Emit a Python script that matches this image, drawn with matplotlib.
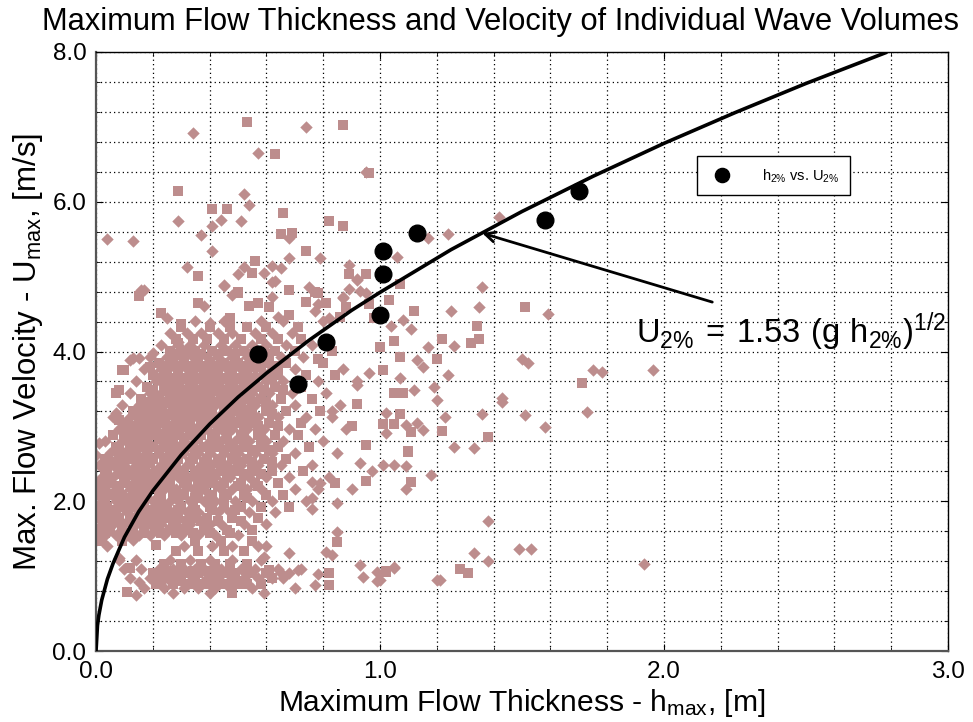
import matplotlib.pyplot as plt
import numpy as np

plt.rcParams['font.family'] = ['Liberation Sans', 'DejaVu Sans']

# --- measured wave volumes: dense part, row by row (U, list of h) ---
sq_rows = [
    (0.90, [0.21, 0.27, 0.33, 0.38, 0.40, 0.45, 0.50, 0.53, 0.58]),
    (0.93, [0.23, 0.30, 0.35, 0.43, 0.48, 0.51]),
    (1.04, [0.20, 0.23, 0.28, 0.32, 0.36, 0.41, 0.46, 0.49, 0.55, 0.60]),
    (1.07, [0.25, 0.30, 0.34, 0.39, 0.43, 0.47, 0.53]),
    (1.16, [0.24, 0.30, 0.37, 0.42, 0.47, 0.53]),
    (1.33, [0.28, 0.36, 0.45, 0.52]),
    (1.47, [0.02, 0.09, 0.35, 0.44, 0.55]),
    (1.58, [0.03, 0.10, 0.17, 0.23, 0.28, 0.34, 0.40, 0.47]),
    (1.62, [0.01, 0.05, 0.09, 0.13, 0.17, 0.21, 0.26, 0.31, 0.38, 0.46, 0.55]),
    (1.73, [0.03, 0.07, 0.12, 0.17, 0.22, 0.27, 0.32, 0.37, 0.43, 0.51]),
    (1.77, [0.00, 0.04, 0.08, 0.12, 0.16, 0.20, 0.25, 0.29, 0.35, 0.39, 0.48, 0.57]),
    (1.89, [0.02, 0.07, 0.11, 0.16, 0.20, 0.25, 0.29, 0.35, 0.41, 0.49]),
    (1.93, [0.00, 0.04, 0.09, 0.13, 0.17, 0.21, 0.24, 0.30, 0.34, 0.40, 0.45, 0.51, 0.58, 0.68]),
    (2.05, [0.03, 0.08, 0.12, 0.17, 0.23, 0.28, 0.35, 0.40, 0.45, 0.53]),
    (2.09, [0.01, 0.05, 0.09, 0.14, 0.18, 0.22, 0.27, 0.31, 0.36, 0.41, 0.46, 0.52, 0.60, 0.66]),
    (2.21, [0.02, 0.08, 0.13, 0.17, 0.21, 0.26, 0.32, 0.37, 0.43, 0.50, 0.57]),
    (2.25, [0.00, 0.05, 0.10, 0.14, 0.18, 0.23, 0.26, 0.31, 0.36, 0.40, 0.45, 0.51, 0.56, 0.64]),
    (2.37, [0.03, 0.09, 0.14, 0.18, 0.23, 0.27, 0.31, 0.36, 0.41, 0.46, 0.52, 0.58]),
    (2.41, [0.04, 0.08, 0.12, 0.17, 0.21, 0.24, 0.30, 0.35, 0.39, 0.44, 0.49, 0.55, 0.62, 0.73]),
    (2.53, [0.05, 0.09, 0.15, 0.19, 0.24, 0.28, 0.33, 0.38, 0.44, 0.50, 0.55, 0.62]),
    (2.57, [0.03, 0.08, 0.12, 0.16, 0.20, 0.25, 0.29, 0.34, 0.39, 0.43, 0.48, 0.53, 0.59, 0.67]),
    (2.69, [0.08, 0.13, 0.18, 0.22, 0.26, 0.30, 0.35, 0.40, 0.45, 0.49, 0.55, 0.61]),
    (2.73, [0.07, 0.12, 0.16, 0.20, 0.24, 0.29, 0.33, 0.38, 0.42, 0.47, 0.52, 0.58, 0.64, 0.75]),
    (2.85, [0.10, 0.13, 0.17, 0.22, 0.27, 0.31, 0.36, 0.41, 0.46, 0.52, 0.58]),
    (2.89, [0.06, 0.11, 0.15, 0.19, 0.24, 0.28, 0.33, 0.37, 0.42, 0.46, 0.51, 0.57, 0.63, 0.71]),
    (3.01, [0.12, 0.16, 0.20, 0.25, 0.29, 0.33, 0.38, 0.43, 0.47, 0.52, 0.57, 0.64]),
    (3.05, [0.10, 0.15, 0.19, 0.23, 0.28, 0.32, 0.37, 0.41, 0.45, 0.50, 0.55, 0.61, 0.72]),
    (3.17, [0.15, 0.19, 0.24, 0.28, 0.33, 0.37, 0.41, 0.46, 0.51, 0.55, 0.62]),
    (3.21, [0.13, 0.18, 0.22, 0.27, 0.31, 0.36, 0.40, 0.45, 0.49, 0.54, 0.60, 0.67, 0.79]),
    (3.33, [0.18, 0.23, 0.27, 0.32, 0.36, 0.41, 0.45, 0.50, 0.55, 0.60]),
    (3.37, [0.16, 0.21, 0.26, 0.30, 0.35, 0.39, 0.44, 0.48, 0.53, 0.58, 0.65, 0.76]),
    (3.49, [0.20, 0.25, 0.30, 0.35, 0.40, 0.44, 0.49, 0.54, 0.59, 0.66]),
    (3.53, [0.18, 0.24, 0.28, 0.33, 0.38, 0.42, 0.47, 0.52, 0.57, 0.63, 0.72]),
    (3.65, [0.23, 0.27, 0.32, 0.37, 0.42, 0.46, 0.51, 0.56, 0.62]),
    (3.69, [0.20, 0.25, 0.29, 0.34, 0.39, 0.43, 0.48, 0.53, 0.59, 0.64, 0.74, 0.84]),
    (3.81, [0.25, 0.29, 0.34, 0.38, 0.43, 0.48, 0.53, 0.58, 0.64]),
    (3.85, [0.22, 0.27, 0.31, 0.36, 0.40, 0.45, 0.50, 0.55, 0.61, 0.67, 0.80]),
    (3.97, [0.28, 0.33, 0.37, 0.43, 0.49, 0.55, 0.61]),
    (4.01, [0.26, 0.31, 0.35, 0.41, 0.46, 0.52, 0.57, 0.63, 0.70, 0.83]),
    (4.17, [0.28, 0.34, 0.39, 0.45, 0.51, 0.58, 0.64, 0.72]),
    (4.33, [0.30, 0.40, 0.47, 0.53, 0.60, 0.71]),
]
dm_rows = [
    (0.84, [0.17, 0.24, 0.31, 0.36, 0.42, 0.47, 0.55, 0.70]),
    (0.97, [0.12, 0.19, 0.25, 0.29, 0.34, 0.39, 0.43, 0.48, 0.52, 0.57, 0.62, 0.66]),
    (1.10, [0.10, 0.16, 0.22, 0.27, 0.31, 0.35, 0.38, 0.44, 0.51, 0.56, 0.64, 0.72]),
    (1.22, [0.08, 0.14, 0.26, 0.33, 0.40, 0.48, 0.58]),
    (1.40, [0.04, 0.31, 0.41, 0.48, 0.57, 0.60]),
    (1.55, [0.00, 0.03, 0.07, 0.11, 0.15, 0.19, 0.24, 0.30, 0.36, 0.42, 0.50]),
    (1.70, [0.02, 0.06, 0.10, 0.14, 0.19, 0.23, 0.28, 0.33, 0.40, 0.44, 0.52, 0.60]),
    (1.85, [0.02, 0.06, 0.11, 0.15, 0.18, 0.22, 0.27, 0.32, 0.36, 0.43, 0.47, 0.54, 0.63]),
    (2.01, [0.02, 0.07, 0.11, 0.15, 0.20, 0.26, 0.29, 0.33, 0.38, 0.42, 0.49, 0.55, 0.62, 0.74]),
    (2.17, [0.03, 0.07, 0.12, 0.16, 0.19, 0.24, 0.28, 0.34, 0.38, 0.44, 0.48, 0.53, 0.58, 0.70, 0.78]),
    (2.33, [0.02, 0.06, 0.11, 0.15, 0.20, 0.25, 0.29, 0.33, 0.38, 0.42, 0.47, 0.54, 0.60, 0.68, 0.82]),
    (2.49, [0.01, 0.06, 0.10, 0.14, 0.18, 0.23, 0.27, 0.32, 0.37, 0.41, 0.46, 0.51, 0.57, 0.65, 0.76]),
    (2.65, [0.05, 0.10, 0.14, 0.18, 0.22, 0.27, 0.31, 0.36, 0.40, 0.45, 0.50, 0.56, 0.62, 0.70, 0.85]),
    (2.81, [0.03, 0.09, 0.14, 0.18, 0.23, 0.26, 0.31, 0.35, 0.40, 0.44, 0.49, 0.54, 0.60, 0.66, 0.80]),
    (2.97, [0.08, 0.13, 0.17, 0.21, 0.26, 0.30, 0.35, 0.39, 0.44, 0.48, 0.53, 0.59, 0.68, 0.77, 0.88]),
    (3.13, [0.06, 0.12, 0.17, 0.21, 0.25, 0.30, 0.34, 0.39, 0.43, 0.47, 0.52, 0.57, 0.64, 0.74, 0.83]),
    (3.29, [0.09, 0.15, 0.20, 0.24, 0.29, 0.33, 0.38, 0.42, 0.47, 0.51, 0.56, 0.62, 0.70, 0.86]),
    (3.45, [0.12, 0.19, 0.23, 0.28, 0.32, 0.37, 0.41, 0.46, 0.50, 0.55, 0.61, 0.69, 0.81]),
    (3.61, [0.14, 0.21, 0.26, 0.30, 0.35, 0.40, 0.44, 0.49, 0.54, 0.60, 0.66, 0.78, 0.92]),
    (3.77, [0.17, 0.23, 0.28, 0.32, 0.37, 0.41, 0.46, 0.51, 0.56, 0.62, 0.70, 0.87]),
    (3.93, [0.19, 0.25, 0.30, 0.34, 0.39, 0.43, 0.48, 0.53, 0.58, 0.65, 0.73]),
    (4.09, [0.23, 0.29, 0.33, 0.38, 0.44, 0.49, 0.55, 0.60, 0.67, 0.76]),
    (4.25, [0.26, 0.32, 0.37, 0.43, 0.48, 0.56, 0.62, 0.69]),
    (4.41, [0.35, 0.45, 0.58, 0.66, 0.80]),
]

# --- measured wave volumes: scattered points (h, U) ---
sq_pts = [
    (0.87, 7.02), (0.53, 7.06), (0.63, 6.64), (0.96, 6.38), (0.29, 6.14),
    (0.41, 5.90), (0.46, 5.90), (0.66, 5.85), (0.82, 5.74), (0.87, 5.67),
    (0.65, 5.57), (0.69, 5.58), (0.74, 5.34), (0.56, 5.21), (0.36, 5.01),
    (0.55, 5.05), (0.95, 5.03), (0.89, 5.04), (0.50, 4.79), (0.68, 4.82),
    (0.78, 4.78), (0.15, 4.74), (0.23, 4.51), (0.30, 4.37), (0.36, 4.65),
    (0.47, 4.45), (0.54, 4.61), (0.57, 4.65), (0.61, 4.59), (0.68, 4.49),
    (0.81, 4.65), (0.86, 4.46), (0.88, 4.59), (0.98, 4.45), (0.29, 4.11),
    (0.10, 3.75), (0.07, 3.44), (0.08, 3.08), (0.77, 4.79), (0.74, 4.66),
    (1.07, 4.90), (1.03, 4.69), (1.12, 4.54), (1.34, 4.34), (1.35, 4.17),
    (1.32, 4.11), (1.51, 4.59), (1.22, 4.17), (1.05, 4.14), (1.07, 3.93),
    (1.00, 4.06), (1.20, 3.90), (1.01, 3.75), (1.08, 3.44), (1.05, 3.44),
    (1.71, 3.58), (1.07, 3.16), (1.11, 2.92), (1.05, 3.03), (1.01, 3.03),
    (1.22, 2.94), (1.38, 2.86), (1.10, 2.66), (1.11, 2.26), (1.10, 2.67),
    (0.95, 2.27), (0.84, 2.24), (0.85, 1.46), (1.02, 1.05), (0.82, 1.04),
    (0.82, 0.88), (0.61, 1.08), (0.62, 0.97), (0.48, 0.77), (0.11, 0.79),
    (0.12, 1.11), (0.21, 1.41), (1.02, 1.07), (1.28, 1.09), (1.31, 1.04),
    (0.09, 3.75), (0.08, 3.48), (0.19, 3.79), (0.04, 2.55), (0.50, 4.78),
    (0.96, 4.63), (0.92, 3.30), (0.78, 3.90), (0.90, 3.00), (0.95, 2.75),
]
dm_pts = [
    (0.74, 7.00), (0.34, 6.92), (0.57, 6.65), (0.95, 6.40), (0.52, 6.11),
    (0.54, 5.95), (0.29, 5.74), (0.44, 5.75), (0.51, 5.74), (0.41, 5.67),
    (0.04, 5.50), (0.13, 5.47), (0.37, 5.55), (0.68, 5.51), (0.41, 5.34),
    (0.68, 5.25), (0.79, 5.25), (0.32, 5.13), (0.52, 5.13), (0.62, 5.14),
    (0.65, 5.11), (0.89, 5.15), (0.50, 5.03), (0.59, 5.05), (0.63, 4.94),
    (0.92, 4.97), (0.45, 4.87), (0.48, 4.75), (0.75, 4.86), (0.62, 4.73),
    (0.87, 4.73), (0.89, 4.83), (0.16, 4.82), (0.25, 4.45), (0.38, 4.61),
    (0.40, 4.38), (0.64, 4.46), (0.78, 4.63), (0.82, 4.45), (0.95, 4.78),
    (0.26, 3.99), (0.13, 3.91), (1.17, 5.51), (1.24, 5.57), (1.42, 5.80),
    (1.06, 5.26), (0.92, 4.95), (0.77, 4.54), (0.87, 4.71), (0.93, 4.81),
    (1.08, 4.42), (1.04, 4.34), (1.11, 4.30), (1.36, 4.86), (1.35, 4.59),
    (1.25, 4.54), (1.59, 4.50), (1.26, 4.07), (1.17, 4.06), (1.13, 3.88),
    (1.15, 3.79), (0.96, 3.71), (1.24, 3.68), (1.19, 3.52), (1.07, 3.64),
    (1.12, 3.48), (1.50, 3.90), (1.52, 3.85), (1.43, 3.38), (1.75, 3.75),
    (1.78, 3.73), (1.96, 3.75), (1.43, 3.32), (1.51, 3.15), (1.73, 3.19),
    (1.58, 2.99), (1.49, 1.36), (1.53, 1.36), (1.93, 1.16), (1.20, 3.35),
    (1.02, 3.18), (1.09, 3.02), (1.13, 3.04), (1.15, 2.95), (1.02, 2.91),
    (1.23, 3.12), (1.36, 3.16), (1.26, 2.72), (1.33, 2.71), (1.01, 2.48),
    (1.05, 2.48), (1.09, 2.47), (1.18, 2.35), (1.09, 2.16), (1.38, 1.74),
    (1.33, 1.31), (1.38, 1.20), (1.05, 1.11), (1.21, 0.95), (1.00, 0.95),
    (0.93, 2.51), (0.90, 2.16), (0.76, 2.26), (0.79, 2.24), (0.85, 1.98),
    (0.76, 1.90), (0.76, 2.04), (0.85, 1.59), (0.81, 1.32), (0.83, 1.28),
    (0.68, 1.31), (0.59, 1.25), (0.93, 1.15), (0.94, 0.99), (0.99, 1.05),
    (1.05, 1.12), (0.99, 0.93), (0.78, 1.03), (0.77, 0.88), (0.71, 1.08),
    (0.68, 1.04), (0.65, 1.04), (0.59, 0.77), (0.40, 0.77), (0.27, 0.77),
    (0.14, 0.75), (1.20, 0.95), (0.15, 0.92), (0.13, 1.48), (0.08, 1.24),
    (0.17, 4.82), (0.45, 4.89), (0.62, 4.93), (0.12, 3.89), (0.15, 3.91),
    (0.29, 4.13), (0.20, 3.98), (0.07, 3.18), (0.10, 3.04), (0.12, 2.91),
    (0.00, 2.62), (0.01, 2.78), (0.92, 3.55), (0.83, 3.20), (0.97, 2.40),
]

# --- h_2% vs U_2% ---
h2 = [0.57, 0.71, 0.81, 1.00, 1.01, 1.01, 1.13, 1.58, 1.70]
u2 = [3.97, 3.56, 4.13, 4.49, 5.03, 5.34, 5.58, 5.75, 6.15]

# --- fitted curve U2% = 1.53 (g h2%)^1/2 ---
fit_h = [0.0, 0.005, 0.01, 0.02, 0.04, 0.06, 0.1, 0.15, 0.2, 0.3, 0.4, 0.5, 0.6,
         0.75, 0.9, 1.0, 1.25, 1.5, 1.75, 2.0, 2.25, 2.5, 2.78]
fit_u = [0.0, 0.34, 0.48, 0.68, 0.96, 1.17, 1.52, 1.86, 2.14, 2.62, 3.03, 3.39, 3.71,
         4.15, 4.55, 4.79, 5.36, 5.87, 6.34, 6.78, 7.19, 7.58, 7.99]


def expand(rows):
    hs, us = [], []
    for u, hl in rows:
        hs += hl
        us += [u] * len(hl)
    return hs, us


sq_h, sq_u = expand(sq_rows)
dm_h, dm_u = expand(dm_rows)
sq_h += [p[0] for p in sq_pts]
sq_u += [p[1] for p in sq_pts]
dm_h += [p[0] for p in dm_pts]
dm_u += [p[1] for p in dm_pts]

pink = '#bd8d8d'

fig = plt.figure(figsize=(9.73, 7.22), dpi=100)
ax = fig.add_axes([0.0987, 0.0983, 0.8756, 0.8297])

ax.scatter(sq_h, sq_u, marker='s', s=44, color=pink, linewidths=0, zorder=2)
ax.scatter(dm_h, dm_u, marker='D', s=40, color=pink, linewidths=0, zorder=2)
ax.plot(fit_h, fit_u, color='black', lw=2.6, zorder=3)
ax.plot(h2, u2, 'o', color='black', ms=12, zorder=4, label=r'$\mathregular{h_{2\%}}$ vs. $\mathregular{U_{2\%}}$')

ax.annotate('', xy=(1.36, 5.58), xytext=(2.17, 4.66),
            arrowprops=dict(arrowstyle='->', lw=2, color='black', shrinkA=0, shrinkB=0,
                            mutation_scale=18), zorder=5)
ax.text(1.90, 4.12, r'$\mathregular{U_{2\%}\,=\,1.53\ (g\ h_{2\%})^{1/2}}$',
        fontsize=23.5, ha='left', va='baseline', zorder=5)

ax.set_xlim(0, 3)
ax.set_ylim(0, 8)
ax.set_xticks([0, 1, 2, 3])
ax.set_xticklabels(['0.0', '1.0', '2.0', '3.0'])
ax.set_yticks([0, 2, 4, 6, 8])
ax.set_yticklabels(['0.0', '2.0', '4.0', '6.0', '8.0'])
ax.set_xticks(np.arange(0, 3.01, 0.2), minor=True)
ax.set_yticks(np.arange(0, 8.01, 0.4), minor=True)
ax.grid(which='both', color='black', linestyle=(0, (1, 2.5)), lw=0.9)
ax.tick_params(which='both', direction='in', top=True, right=True, labelsize=17.5)
ax.tick_params(which='major', length=5, pad=7)
ax.tick_params(which='minor', length=3)
for s in ax.spines.values():
    s.set_linewidth(1.0)
ax.spines['bottom'].set_color('#555555')
ax.spines['bottom'].set_linewidth(1.6)
ax.spines['left'].set_color('#555555')
ax.spines['left'].set_linewidth(1.6)

ax.set_xlabel(r'Maximum Flow Thickness - $\mathregular{h_{max}}$, [m]', fontsize=21.6, labelpad=3)
ax.set_ylabel(r'Max. Flow Velocity - $\mathregular{U_{max}}$, [m/s]', fontsize=22.5, labelpad=5)
fig.text(0.514, 0.958, 'Maximum Flow Thickness and Velocity of Individual Wave Volumes',
         fontsize=22.2, ha='center', va='baseline')

leg = ax.legend(loc='upper left', bbox_to_anchor=(0.705, 0.826), fontsize=10.5,
                frameon=True, fancybox=False, edgecolor='black', framealpha=1,
                borderpad=0.75, borderaxespad=0, handletextpad=1.7, markerscale=0.85)
leg.get_frame().set_linewidth(1.0)

fig.savefig('out.png', dpi=100)
